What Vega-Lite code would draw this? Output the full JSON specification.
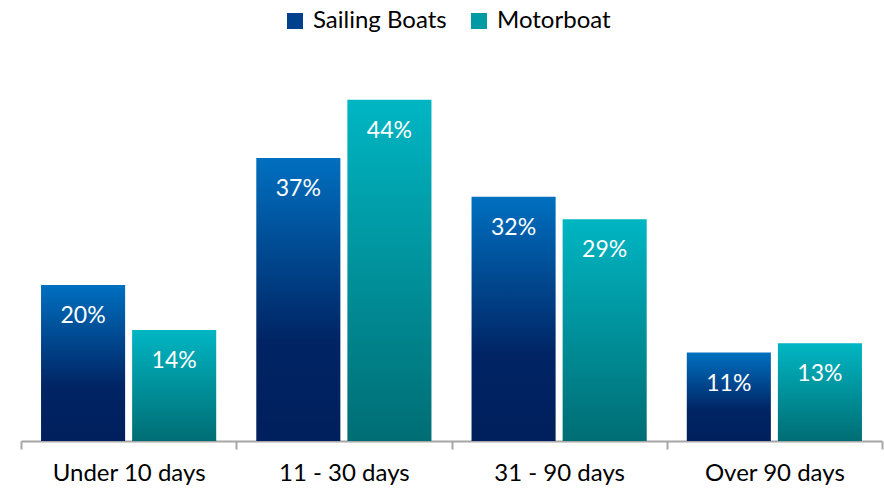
{
  "$schema": "https://vega.github.io/schema/vega-lite/v6.json",
  "width": 861,
  "height": 349,
  "autosize": "none",
  "padding": {"left": 21, "top": 92, "right": 2, "bottom": 47},
  "background": "white",
  "config": {"view": {"stroke": null}, "font": "Lato"},
  "data": {
    "values": [
      {"category": "Under 10 days", "series": "Sailing Boats", "value": 20.1, "label": "20%"},
      {"category": "Under 10 days", "series": "Motorboat", "value": 14.3, "label": "14%"},
      {"category": "11 - 30 days", "series": "Sailing Boats", "value": 36.5, "label": "37%"},
      {"category": "11 - 30 days", "series": "Motorboat", "value": 44.0, "label": "44%"},
      {"category": "31 - 90 days", "series": "Sailing Boats", "value": 31.5, "label": "32%"},
      {"category": "31 - 90 days", "series": "Motorboat", "value": 28.6, "label": "29%"},
      {"category": "Over 90 days", "series": "Sailing Boats", "value": 11.4, "label": "11%"},
      {"category": "Over 90 days", "series": "Motorboat", "value": 12.6, "label": "13%"}
    ]
  },
  "encoding": {
    "x": {
      "field": "category", "type": "nominal", "sort": null,
      "scale": {"paddingInner": 0, "paddingOuter": 0},
      "axis": {
        "title": null, "labelAngle": 0, "labelFontSize": 24, "labelColor": "#000000",
        "labelFont": "Lato", "domainColor": "#A6A6A6", "domainWidth": 2,
        "tickColor": "#A6A6A6", "tickWidth": 2, "tickSize": 8, "tickBand": "extent",
        "labelPadding": 12, "grid": false
      }
    },
    "xOffset": {
      "field": "series", "type": "nominal", "sort": ["Sailing Boats", "Motorboat"],
      "scale": {"domain": ["Sailing Boats", "Motorboat"], "paddingInner": 0.077, "paddingOuter": 0.22}
    },
    "y": {
      "field": "value", "type": "quantitative",
      "scale": {"domain": [0, 45], "nice": false, "zero": true},
      "axis": null
    }
  },
  "layer": [
    {
      "mark": {"type": "bar"},
      "encoding": {
        "fill": {
          "condition": {
            "test": "datum.series === 'Sailing Boats'",
            "value": {"gradient": "linear", "x1": 0, "y1": 0, "x2": 0, "y2": 1,
              "stops": [{"offset": 0, "color": "#0070C0"}, {"offset": 0.65, "color": "#002464"}, {"offset": 1, "color": "#001F5C"}]}
          },
          "value": {"gradient": "linear", "x1": 0, "y1": 0, "x2": 0, "y2": 1,
            "stops": [{"offset": 0, "color": "#00B6C3"}, {"offset": 1, "color": "#006D74"}]}
        }
      }
    },
    {
      "mark": {"type": "text", "color": "white", "fontSize": 23, "baseline": "middle", "dy": 31},
      "encoding": {
        "text": {"field": "label"}
      }
    },
    {
      "transform": [{"filter": "false"}],
      "mark": {"type": "square", "opacity": 1},
      "encoding": {
        "color": {
          "field": "series", "type": "nominal",
          "scale": {"domain": ["Sailing Boats", "Motorboat"], "range": ["#00408C", "#009AA4"]},
          "legend": {
            "title": null, "orient": "none", "legendX": 262, "legendY": -83,
            "direction": "horizontal", "symbolType": "square", "symbolSize": 256,
            "symbolStrokeWidth": 0, "labelFontSize": 24, "labelFont": "Lato",
            "labelColor": "#000000", "labelOffset": 6, "columnPadding": 20
          }
        }
      }
    }
  ]
}
